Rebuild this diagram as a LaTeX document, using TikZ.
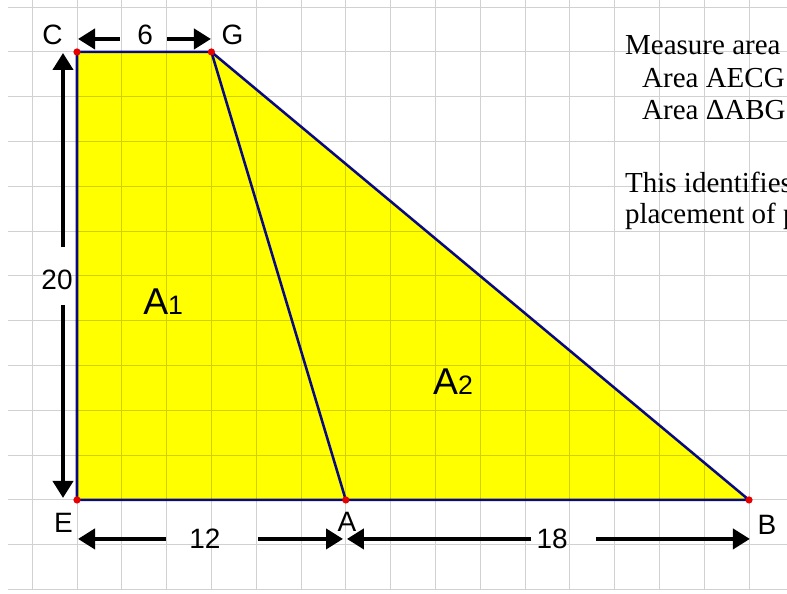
\documentclass[tikz,border=0pt]{standalone}
\usepackage{fontspec}
\setmainfont{Liberation Serif}
\setsansfont{Liberation Sans}
\usepackage{xcolor}
\usepackage{tikz}
\usetikzlibrary{arrows.meta}

\definecolor{navyline}{HTML}{0A0A80}
\definecolor{fillyellow}{RGB}{255,255,0}
\definecolor{dotred}{RGB}{230,0,0}

\begin{document}
\begin{tikzpicture}[x=16.8pt, y=16.8pt,
    gridline/.style={draw=black, opacity=0.18, line width=0.75pt},
    edge/.style={draw=navyline, line width=1.9pt, line join=round},
    pt/.style={circle, fill=dotred, inner sep=0pt, minimum size=5.4pt},
    lbl/.style={font=\fontsize{21}{25}\sffamily, inner sep=0pt},
    area/.style={font=\fontsize{28}{32}\sffamily, inner sep=0pt, anchor=base west},
    note/.style={font=\fontsize{21.75}{26}\selectfont, inner sep=0pt, anchor=base west},
    dimarr/.style={-{Triangle[length=12.75pt, width=15pt]}, line width=3pt}
]
\useasboundingbox (-3.4375,-4.196) rectangle (31.696,22.32);
\clip (-3.4375,-4.196) rectangle (31.696,22.32);
\fill[white] (-3.4375,-4.196) rectangle (31.696,22.32);

% corner points
\coordinate (E) at (0,0);
\coordinate (A) at (12,0);
\coordinate (B) at (30,0);
\coordinate (C) at (0,20);
\coordinate (G) at (6,20);

% shaded region and grid
\fill[fillyellow] (E) -- (C) -- (G) -- (B) -- cycle;
\draw[gridline] (-3.1,-4) grid[step=2] (31.7,22.32);

% outline
\draw[edge] (E) -- (C) -- (G) -- (B) -- cycle;
\draw[edge] (G) -- (A);
\foreach \p in {E,A,B,C,G}
    \node[pt] at (\p) {};

% point labels
\node[lbl] (lC) at (-1.09,20.76) {C};
\node[lbl] (lG) at (6.94,20.76) {G};
\node[lbl] (lE) at (-0.6,-1.03) {E};
\node[lbl] (lA) at (12.05,-0.98) {A};
\node[lbl] (lB) at (30.8,-1.1) {B};

% area labels
\node[area] (a1) at (2.95,8.26) {A{\fontsize{20}{24}\selectfont 1}};
\node[area] (a2) at (15.89,4.69) {A{\fontsize{20}{24}\selectfont 2}};

% dimension CG
\coordinate (dCl) at (0.045,20.58);
\coordinate (dGr) at (5.98,20.58);
\node[lbl] (six) at (3.04,20.76) {6};
\draw[dimarr, shorten <=12.75pt] (six.west |- dCl) -- (dCl);
\draw[dimarr, shorten <=10.5pt] (six.east |- dGr) -- (dGr);

% dimension EC
\coordinate (dVt) at (-0.625,19.955);
\coordinate (dVb) at (-0.625,0.09);
\node[lbl] (twenty) at (-0.89,9.82) {20};
\draw[dimarr, shorten <=17pt] (twenty.north -| dVt) -- (dVt);
\draw[dimarr, shorten <=11pt] (twenty.south -| dVb) -- (dVb);

% dimension EA
\coordinate (dEl) at (0.045,-1.74);
\coordinate (dAl) at (11.875,-1.74);
\node[lbl] (twelve) at (5.71,-1.74) {12};
\draw[dimarr, shorten <=17pt] (twelve.west) -- (dEl);
\draw[dimarr, shorten <=28pt] (twelve.east) -- (dAl);

% dimension AB
\coordinate (dAr) at (12.05,-1.74);
\coordinate (dBr) at (30.04,-1.74);
\node[lbl] (eighteen) at (21.21,-1.74) {18};
\draw[dimarr, shorten <=3.75pt] (eighteen.west) -- (dAr);
\draw[dimarr, shorten <=21pt] (eighteen.east) -- (dBr);

% notes
\node[note] (n1) at (24.46,19.866) {Measure area};
\node[note] (n2) at (25.22,18.393) {Area AECG};
\node[note] (n3) at (25.22,16.964) {Area ΔABG};
\node[note] (n4) at (24.46,13.705) {This identifies};
\node[note] (n5) at (24.46,12.321) {placement of p};
\end{tikzpicture}
\end{document}
